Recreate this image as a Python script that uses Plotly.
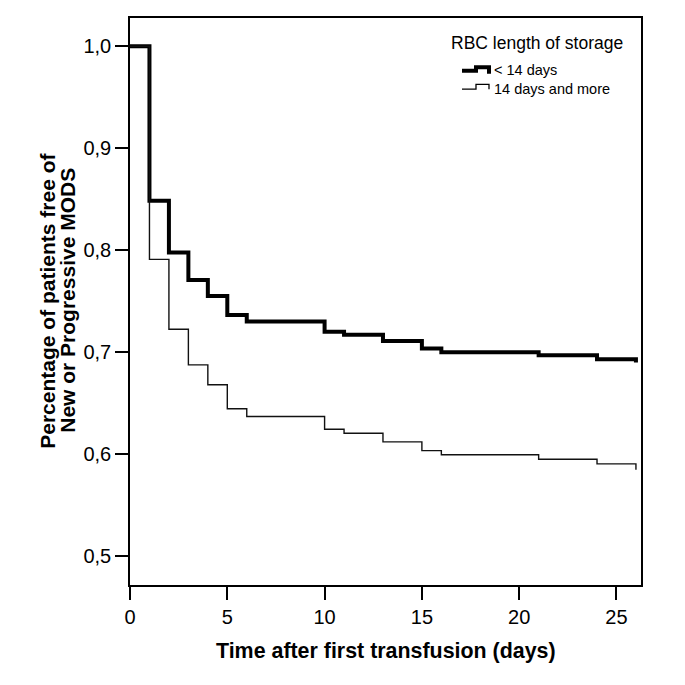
import plotly.graph_objects as go

# ---- data ----
days_lt14 = [0, 1, 2, 3, 4, 5, 6, 10, 11, 13, 15, 16, 21, 24, 26, 26]
surv_lt14 = [1.0, 0.8485, 0.7977, 0.7707, 0.755, 0.7365, 0.730, 0.720, 0.717,
             0.711, 0.7035, 0.700, 0.697, 0.693, 0.693, 0.690]
days_ge14 = [0, 1, 2, 3, 4, 5, 6, 10, 11, 13, 15, 16, 21, 24, 26, 26]
surv_ge14 = [1.0, 0.791, 0.7225, 0.6876, 0.668, 0.6445, 0.637, 0.6245, 0.6205,
             0.612, 0.6035, 0.5994, 0.595, 0.5905, 0.5905, 0.5846]
x_ticks = [0, 5, 10, 15, 20, 25]
y_ticks = [0.5, 0.6, 0.7, 0.8, 0.9, 1.0]
y_ticktext = ["0,5", "0,6", "0,7", "0,8", "0,9", "1,0"]
series_names = ["< 14 days", "14 days and more"]
legend_title = "RBC length of storage"

# page body has an 8px margin; work in window pixels and shift by it
OFF = 8
W = H = 685 - OFF
L, R, T, B = 130 - OFF, 44, 16 - OFF, 99.5
pw, ph = W - L - R, H - T - B

def px(x):
    return (x - OFF - L) / pw

def py(y):
    return (H - B - (y - OFF)) / ph

FONT = "Liberation Sans, Arial, sans-serif"

fig = go.Figure()
fig.add_trace(go.Scatter(x=days_lt14, y=surv_lt14, mode="lines", line_shape="hv",
                         line=dict(color="black", width=4), name=series_names[0],
                         showlegend=False))
fig.add_trace(go.Scatter(x=days_ge14, y=surv_ge14, mode="lines", line_shape="hv",
                         line=dict(color="#111", width=1.4), name=series_names[1],
                         showlegend=False))

axis_common = dict(showline=True, linecolor="black", linewidth=1.5, mirror=True,
                   ticks="outside", ticklen=13, tickwidth=1.5, tickcolor="black",
                   showgrid=False, zeroline=False,
                   tickfont=dict(family=FONT, size=20, color="black"))

fig.update_xaxes(range=[0, 26.26], tickvals=x_ticks, **axis_common)
fig.update_yaxes(range=[0.4717, 1.0277], tickvals=y_ticks, ticktext=y_ticktext, **axis_common)

shapes = []
def step_path(pts):
    return "M " + " L ".join(f"{px(a):.5f},{py(b):.5f}" for a, b in pts)

shapes.append(dict(type="path", xref="paper", yref="paper",
                   path=step_path([(462, 69), (476, 69), (476, 65.5), (489, 65.5), (489, 72)]),
                   line=dict(color="black", width=4)))
shapes.append(dict(type="path", xref="paper", yref="paper",
                   path=step_path([(462, 87.5), (476, 87.5), (476, 82.7), (489, 82.7), (489, 87.5)]),
                   line=dict(color="black", width=1.3)))

annotations = [
    dict(text=legend_title, x=px(536.5), y=py(41.5), xref="paper", yref="paper",
         xanchor="center", yanchor="middle", showarrow=False,
         font=dict(family=FONT, size=17.5, color="black")),
    dict(text=series_names[0], x=px(492), y=py(68.5), xref="paper", yref="paper",
         xanchor="left", yanchor="middle", showarrow=False,
         font=dict(family=FONT, size=14.5, color="black")),
    dict(text=series_names[1], x=px(492), y=py(87.5), xref="paper", yref="paper",
         xanchor="left", yanchor="middle", showarrow=False,
         font=dict(family=FONT, size=14.5, color="black")),
    dict(text="<b>Time after first transfusion (days)</b>", x=px(386), y=py(652),
         xref="paper", yref="paper", xanchor="center", yanchor="middle", showarrow=False,
         font=dict(family=FONT, size=21.4, color="black")),
    dict(text="<b>Percentage of patients free of</b>", x=px(48), y=py(300),
         xref="paper", yref="paper", xanchor="center", yanchor="middle", showarrow=False,
         textangle=-90, font=dict(family=FONT, size=21, color="black")),
    dict(text="<b>New or Progressive MODS</b>", x=px(68), y=py(300),
         xref="paper", yref="paper", xanchor="center", yanchor="middle", showarrow=False,
         textangle=-90, font=dict(family=FONT, size=21, color="black")),
]

fig.update_layout(width=W, height=H, margin=dict(l=L, r=R, t=T, b=B),
                  paper_bgcolor="white", plot_bgcolor="white",
                  shapes=shapes, annotations=annotations,
                  font=dict(family=FONT, color="black"))

fig.write_html("out.html")
